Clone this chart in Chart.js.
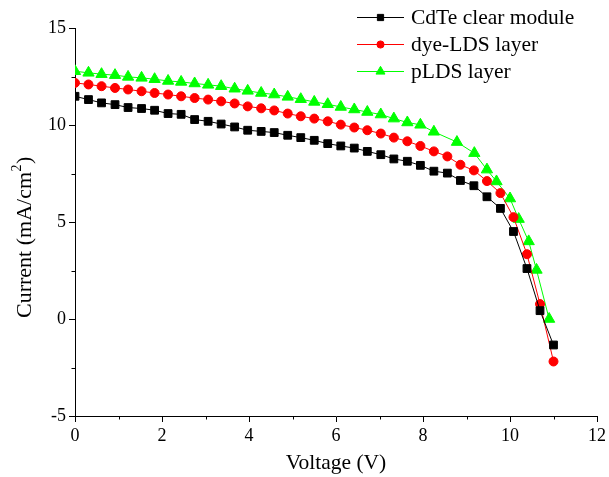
<!DOCTYPE html>
<html>
<head>
<meta charset="utf-8">
<title>J-V curves</title>
<script src="https://cdn.jsdelivr.net/npm/chart.js@4/dist/chart.umd.min.js"></script>
<style>
  html, body { margin: 0; padding: 0; background: #fff; }
  #wrap { width: 609px; height: 477px; position: relative; }
</style>
</head>
<body>
<div id="wrap"><canvas id="ivChart"></canvas></div>
<script>
// Voltage steps shared by the clear module and dye-LDS sweeps (V)
const voltage = [0.00, 0.31, 0.61, 0.92, 1.22, 1.53, 1.83, 2.14, 2.44, 2.75, 3.06, 3.36, 3.67,
    3.97, 4.28, 4.58, 4.89, 5.19, 5.50, 5.81, 6.11, 6.42, 6.72, 7.03, 7.33, 7.64, 7.94, 8.25,
    8.56, 8.86, 9.17, 9.47, 9.78, 10.08, 10.39, 10.69, 11.00];

// Current density (mA/cm2)
const cdteClear = [11.48, 11.31, 11.14, 11.05, 10.90, 10.85, 10.76, 10.59, 10.55, 10.28, 10.19, 10.05, 9.90,
    9.73, 9.67, 9.61, 9.47, 9.35, 9.21, 9.04, 8.92, 8.81, 8.64, 8.47, 8.25, 8.13, 7.92, 7.62,
    7.52, 7.14, 6.87, 6.30, 5.70, 4.51, 2.60, 0.43, -1.34];
const dyeLds = [12.17, 12.09, 12.00, 11.91, 11.83, 11.74, 11.65, 11.57, 11.48, 11.39, 11.31, 11.22, 11.11,
    10.96, 10.86, 10.75, 10.59, 10.45, 10.33, 10.19, 10.02, 9.87, 9.73, 9.56, 9.35, 9.16, 8.92, 8.64,
    8.38, 7.95, 7.66, 7.11, 6.49, 5.25, 3.34, 0.77, -2.19];

// pLDS sweep uses its own voltage points near Voc
const pldsVoltage = [0.00, 0.31, 0.61, 0.92, 1.22, 1.53, 1.83, 2.14, 2.44, 2.75, 3.06, 3.36, 3.67,
    3.97, 4.28, 4.58, 4.89, 5.19, 5.50, 5.81, 6.11, 6.42, 6.72, 7.03, 7.33, 7.64, 7.94, 8.25,
    8.78, 9.18, 9.47, 9.69, 10.00, 10.20, 10.43, 10.61, 10.90];
const pLds = [12.77, 12.69, 12.62, 12.57, 12.48, 12.43, 12.36, 12.27, 12.22, 12.14, 12.07, 12.00, 11.87,
    11.76, 11.65, 11.57, 11.45, 11.33, 11.19, 11.07, 10.93, 10.80, 10.67, 10.54, 10.33, 10.13, 10.01, 9.65,
    9.12, 8.55, 7.70, 7.09, 6.21, 5.15, 4.00, 2.53, 0.00];

const seriesNames = ['CdTe clear module', 'dye-LDS layer', 'pLDS layer'];
const xTicks = [0, 2, 4, 6, 8, 10, 12];
const yTicks = [-5, 0, 5, 10, 15];

const serif = '"Liberation Serif", "Times New Roman", serif';

function toPoints(xs, ys) {
    return xs.map((x, i) => ({ x: x, y: ys[i] }));
}

// Short outward minor ticks halfway between the labelled ones
const minorTicks = {
    id: 'minorTicks',
    afterDraw(chart) {
        const ctx = chart.ctx;
        const xs = chart.scales.x, ys = chart.scales.y;
        const area = chart.chartArea;
        ctx.save();
        ctx.strokeStyle = '#000';
        ctx.lineWidth = 1;
        ctx.beginPath();
        for (let i = 0; i < xTicks.length - 1; i++) {
            const px = Math.round(xs.getPixelForValue((xTicks[i] + xTicks[i + 1]) / 2)) + 0.5;
            ctx.moveTo(px, area.bottom);
            ctx.lineTo(px, area.bottom + 3.5);
        }
        for (let i = 0; i < yTicks.length - 1; i++) {
            const py = Math.round(ys.getPixelForValue((yTicks[i] + yTicks[i + 1]) / 2)) + 0.5;
            ctx.moveTo(area.left, py);
            ctx.lineTo(area.left - 3.5, py);
        }
        ctx.stroke();
        ctx.restore();
    }
};

// Y axis title with a real superscript for cm2
const yTitle = {
    id: 'yTitle',
    afterDraw(chart) {
        const ctx = chart.ctx;
        ctx.save();
        ctx.translate(25, 318);
        ctx.rotate(-Math.PI / 2);
        ctx.fillStyle = '#000';
        ctx.textAlign = 'left';
        ctx.textBaseline = 'middle';
        ctx.font = '22px ' + serif;
        const main = 'Current (mA/cm';
        ctx.fillText(main, 0, 0);
        let x = ctx.measureText(main).width;
        ctx.font = '14px ' + serif;
        ctx.fillText('2', x + 0.5, -8);
        x += ctx.measureText('2').width + 1;
        ctx.font = '22px ' + serif;
        ctx.fillText(')', x, 0);
        ctx.restore();
    }
};

// Legend in the top right corner: line sample with the marker in the middle
const lineLegend = {
    id: 'lineLegend',
    afterDraw(chart) {
        const ctx = chart.ctx;
        const rows = [17, 44, 71];
        ctx.save();
        chart.data.datasets.forEach((ds, i) => {
            const y = rows[i];
            ctx.strokeStyle = ds.borderColor;
            ctx.lineWidth = 1;
            ctx.beginPath();
            ctx.moveTo(357, y + 0.5);
            ctx.lineTo(404, y + 0.5);
            ctx.stroke();
            ctx.fillStyle = ds.pointBackgroundColor;
            ctx.strokeStyle = ds.pointBorderColor;
            Chart.helpers.drawPoint(ctx, {
                pointStyle: ds.pointStyle,
                radius: ds.pointRadius * 0.8,
                rotation: 0,
                borderWidth: 1
            }, 380.5, y + 0.5);
            ctx.fillStyle = '#000';
            ctx.font = '21.5px ' + serif;
            ctx.textBaseline = 'middle';
            ctx.textAlign = 'left';
            ctx.fillText(ds.label, 411, y + 1);
        });
        ctx.restore();
    }
};

const ctx = document.getElementById('ivChart').getContext('2d');

new Chart(ctx, {
    type: 'line',
    data: {
        datasets: [
            {
                label: seriesNames[0],
                data: toPoints(voltage, cdteClear),
                borderColor: '#000000',
                backgroundColor: '#000000',
                pointBackgroundColor: '#000000',
                pointBorderColor: '#000000',
                pointStyle: 'rect',
                pointRadius: 5.5,
                borderWidth: 1,
                pointBorderWidth: 1
            },
            {
                label: seriesNames[1],
                data: toPoints(voltage, dyeLds),
                borderColor: '#ff0000',
                backgroundColor: '#ff0000',
                pointBackgroundColor: '#ff0000',
                pointBorderColor: '#ff0000',
                pointStyle: 'circle',
                pointRadius: 4.5,
                borderWidth: 1,
                pointBorderWidth: 1
            },
            {
                label: seriesNames[2],
                data: toPoints(pldsVoltage, pLds),
                borderColor: '#00ff00',
                backgroundColor: '#00ff00',
                pointBackgroundColor: '#00ff00',
                pointBorderColor: '#00ff00',
                pointStyle: 'triangle',
                pointRadius: 6.5,
                borderWidth: 1,
                pointBorderWidth: 1
            }
        ]
    },
    options: {
        responsive: true,
        maintainAspectRatio: false,
        animation: false,
        layout: { padding: { top: 28, right: 10, left: 0, bottom: 0 } },
        plugins: {
            legend: { display: false },
            tooltip: { enabled: false }
        },
        elements: { line: { tension: 0 } },
        scales: {
            x: {
                type: 'linear',
                min: 0,
                max: 12,
                afterBuildTicks: scale => { scale.ticks = xTicks.map(v => ({ value: v })); },
                afterFit: scale => { scale.height = 61; },
                grid: { display: true, drawOnChartArea: false, drawTicks: true, tickLength: 6, color: '#000' },
                border: { display: true, color: '#000', width: 1 },
                ticks: { color: '#000', padding: 3, maxRotation: 0, font: { family: serif, size: 18 } },
                title: {
                    display: true,
                    text: 'Voltage (V)',
                    color: '#000',
                    font: { family: serif, size: 21.5 },
                    padding: { top: 0, bottom: 1 }
                }
            },
            y: {
                type: 'linear',
                min: -5,
                max: 15,
                afterBuildTicks: scale => { scale.ticks = yTicks.map(v => ({ value: v })); },
                afterFit: scale => { scale.width = 75; },
                grid: { display: true, drawOnChartArea: false, drawTicks: true, tickLength: 6, color: '#000' },
                border: { display: true, color: '#000', width: 1 },
                ticks: { color: '#000', padding: 3, font: { family: serif, size: 18 } }
            }
        }
    },
    plugins: [minorTicks, yTitle, lineLegend]
});
</script>
</body>
</html>
